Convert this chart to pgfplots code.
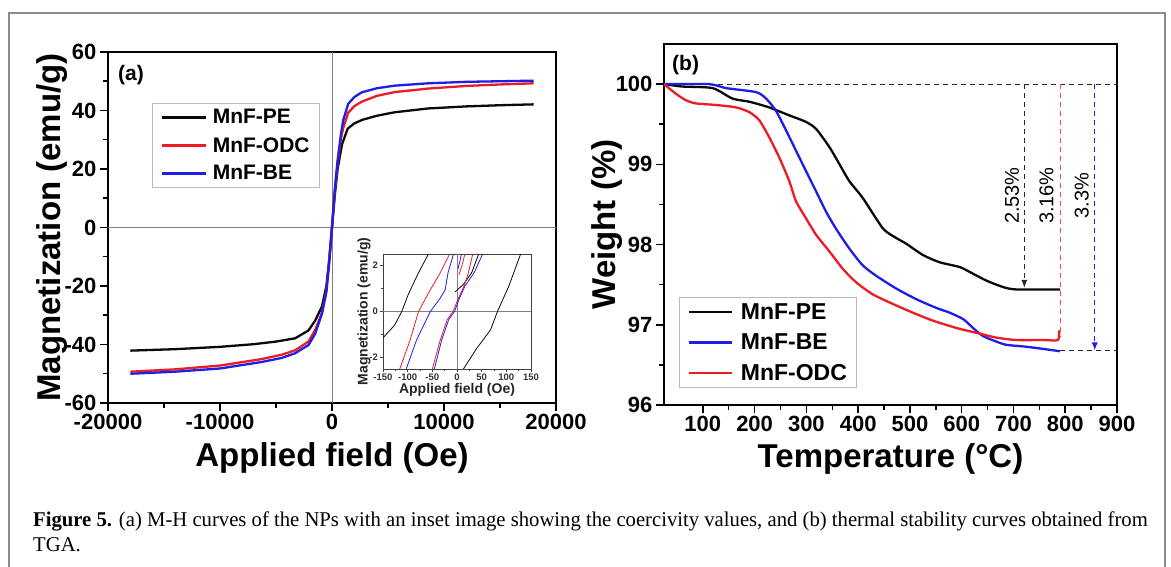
\documentclass[border=0pt]{standalone}
\usepackage{fontspec}
\setmainfont{Liberation Sans}
\newfontfamily\capfont{Liberation Serif}[FakeStretch=0.985]
\usepackage{pgfplots}
\pgfplotsset{compat=1.18}
\usetikzlibrary{arrows.meta}
\definecolor{cpe}{RGB}{10,10,10}
\definecolor{codc}{RGB}{236,28,36}
\definecolor{cbe}{RGB}{30,30,230}
\definecolor{framegray}{gray}{0.55}
\newcommand{\fs}[1]{\fontsize{#1}{#1}\selectfont}

\pgfplotsset{
  panel/.style={
    scale only axis, anchor=south west,
    axis line style={line width=2pt, black},
    tick style={line width=1.5pt, black},
    tick align=outside, tick pos=left,
    major tick length=8pt, minor tick length=5pt,
    scaled ticks=false,
    ticklabel style={font=\fs{22}\bfseries},
    label style={font=\fs{33}\bfseries},
    every axis y label/.style={at={(axis description cs:#1,0.5)}, rotate=90, anchor=center, font=\fs{33}\bfseries},
    clip=false,
  },
  curve/.style={line width=2.3pt, line join=round},
}

\begin{document}
\begin{tikzpicture}[x=1pt,y=1pt]
\useasboundingbox (0,0) rectangle (1171,567);
\fill[white] (0,0) rectangle (1171,567);
\draw[framegray, line width=1.3pt] (9,0) -- (9,554) -- (1165,554) -- (1165,0);

% (a) M-H curves
\begin{axis}[panel=-0.124,
  at={(108pt,164pt)}, width=448pt, height=351pt,
  xmin=-20000, xmax=20000, ymin=-60, ymax=60,
  xtick={-20000,-10000,0,10000,20000}, xticklabels={-20000,-10000,0,10000,20000},
  ytick={-60,-40,-20,0,20,40,60}, yticklabels={-60,-40,-20,0,20,40,60},
  minor x tick num=1, minor y tick num=1,
  xlabel={Applied field (Oe)}, ylabel={Magnetization (emu/g)},
  xlabel style={at={(axis description cs:0.5,-0.182)}, anchor=base},
  legend style={at={(axis description cs:0.098,0.855)}, anchor=north west,
    draw=gray!55, line width=1pt, fill=white, font=\fs{21}\bfseries,
    nodes={inner sep=2pt}, row sep=8pt, inner xsep=8pt, inner ysep=4pt,
    cells={anchor=west}},
  legend image code/.code={\draw[#1, line width=2.5pt] (0pt,0pt) -- (44pt,0pt); \path (48pt,0pt);},
]
\draw[gray, line width=0.8pt] (axis cs:-20000,0) -- (axis cs:20000,0);
\draw[gray, line width=0.8pt] (axis cs:0,-60) -- (axis cs:0,60);
\addplot[curve, cpe] coordinates {
(-18000,-42.1) (-14000,-41.6) (-10000,-40.8) (-7000,-39.9) (-5000,-39.0)
(-3300,-37.9) (-2100,-35.2) (-1500,-31.8) (-900,-27) (-500,-20) (-250,-11)
(0,0) (250,11) (500,20) (900,28.5) (1400,33.8) (2000,35.6) (2700,36.8)
(4000,38.2) (5600,39.4) (8600,40.7) (12000,41.4) (15000,41.8) (18000,42.1)};
\addplot[curve, codc] coordinates {
(-18000,-49.3) (-14000,-48.5) (-10000,-47.2) (-6300,-45.0) (-4500,-43.5)
(-3300,-42.0) (-2100,-39.0) (-1500,-35.0) (-900,-29.2) (-500,-21.5) (-250,-11.5)
(0,0) (250,12.5) (500,22) (800,30.5) (1000,34) (1450,39.3) (2000,41.5)
(2650,43.0) (4000,45.0) (5600,46.3) (8600,47.5) (12000,48.4) (15000,48.9) (18000,49.3)};
\addplot[curve, cbe] coordinates {
(-18000,-50.0) (-14000,-49.3) (-10000,-48.2) (-6300,-46.0) (-4500,-44.6)
(-3300,-43.0) (-2100,-40.2) (-1500,-36.3) (-900,-29.5) (-500,-22) (-250,-12)
(0,0) (250,13) (500,23) (800,32) (1000,36.7) (1450,42.3) (2000,44.6)
(2650,46.2) (4000,47.6) (5600,48.5) (8600,49.3) (12000,49.8) (15000,50.0) (18000,50.2)};
\legend{MnF-PE, MnF-ODC, MnF-BE}
\end{axis}
\node[anchor=north west, font=\fs{21}\bfseries, inner sep=0pt] at (118,502) {(a)};

% inset: coercivity
\begin{axis}[
  scale only axis, anchor=south west,
  at={(383pt,198pt)}, width=148pt, height=115pt,
  xmin=-150, xmax=150, ymin=-2.5, ymax=2.5,
  axis background/.style={fill=white},
  axis line style={line width=0.9pt, black!75},
  tick style={line width=0.8pt, black!75},
  tick align=outside, tick pos=left,
  major tick length=3.5pt, minor tick length=2pt,
  xtick={-150,-100,-50,0,50,100,150}, xticklabels={-150,-100,-50,0,50,100,150},
  ytick={-2,0,2}, yticklabels={-2,0,2},
  minor x tick num=1, minor y tick num=1,
  ticklabel style={font=\fs{9.5}\bfseries, text=black!80, inner sep=1.5pt},
  label style={font=\fs{14}\bfseries, text=black!85},
  xlabel={Applied field (Oe)}, ylabel={Magnetization (emu/g)},
  xlabel style={at={(axis description cs:0.5,-0.21)}, anchor=base},
  every axis y label/.style={at={(axis description cs:-0.128,0.5)}, rotate=90, anchor=center, font=\fs{14}\bfseries, text=black!85},
  clip=true,
]
\draw[gray, line width=0.6pt] (axis cs:-150,0) -- (axis cs:150,0);
\draw[gray, line width=0.6pt] (axis cs:0,-2.5) -- (axis cs:0,2.5);
\addplot[cpe, line width=0.8pt] coordinates {(-150,-1.15) (-126,-0.58) (-112,0) (-99,0.73) (-80,1.6) (-58,2.5)};
\addplot[cpe, line width=0.8pt] coordinates {(13,-2.5) (40,-1.6) (68,-0.8) (82,0) (105,1.1) (129,2.5)};
\addplot[cpe, line width=0.8pt] coordinates {(-4,0.85) (14,1.2) (30,1.7) (44,2.5)};
\addplot[codc, line width=0.8pt] coordinates {(-116,-2.5) (-95,-1.24) (-78,0) (-54,0.95) (-34,1.68) (-15,2.5)};
\addplot[cbe, line width=0.8pt] coordinates {(-103,-2.5) (-82,-1.24) (-54,0) (-34,0.58) (-24,0.95) (-18,1.7) (-7,2.5)};
\addplot[codc, line width=0.8pt] coordinates {(-50,-2.5) (-34,-1.24) (-20,-0.36) (-8,0) (3,0.58) (14,1.1) (22,1.6) (32,2.5)};
\addplot[cbe, line width=0.8pt] coordinates {(-46,-2.5) (-31,-1.24) (-17,-0.36) (-5,0) (5,0.58) (16,1.1) (35,1.7) (52,2.5)};
\addplot[codc, line width=0.8pt] coordinates {(4,1.6) (10,2.0) (16,2.5)};
\addplot[cbe, line width=0.8pt] coordinates {(2,1.85) (6,2.2) (9,2.5)};
\end{axis}

% (b) TGA
\begin{axis}[panel=-0.126,
  at={(664pt,162pt)}, width=453pt, height=361pt,
  xmin=25, xmax=900, ymin=96, ymax=100.5,
  xtick={100,200,300,400,500,600,700,800,900},
  xticklabels={100,200,300,400,500,600,700,800,900},
  ytick={96,97,98,99,100}, yticklabels={96,97,98,99,100},
  minor x tick num=1, minor y tick num=1,
  xlabel={Temperature (°C)}, ylabel={Weight (\%)},
  xlabel style={at={(axis description cs:0.5,-0.172)}, anchor=base},
  legend style={at={(axis description cs:0.033,0.299)}, anchor=north west,
    draw=gray!55, line width=1pt, fill=white, font=\fs{23}\bfseries,
    nodes={inner sep=2pt}, row sep=9pt, inner xsep=8pt, inner ysep=4pt,
    cells={anchor=west}},
  legend image code/.code={\draw[#1, line width=2.5pt] (0pt,0pt) -- (43pt,0pt); \path (49pt,0pt);},
]
\draw[black!85, line width=1.2pt, dash pattern=on 5pt off 4pt] (axis cs:25,100) -- (axis cs:900,100);
\draw[black!85, line width=1.2pt, dash pattern=on 5pt off 4pt] (axis cs:790,96.68) -- (axis cs:900,96.68);
\draw[codc!80, line width=1pt, dash pattern=on 5pt off 4pt] (axis cs:791,100) -- (axis cs:791,96.85);
\addplot[curve, cpe, smooth, tension=0.4] coordinates {
(25,100) (60,99.97) (119,99.95) (157,99.82) (190,99.78) (228,99.71) (267,99.61)
(299,99.53) (319,99.44) (345,99.21) (364,99.0) (383,98.79) (409,98.58) (448,98.20)
(474,98.08) (493,98.01) (525,97.87) (557,97.78) (596,97.72) (615,97.66) (648,97.55)
(680,97.47) (706,97.44) (790,97.44)};
\addplot[curve, cbe, smooth, tension=0.4] coordinates {
(25,100) (112,100) (145,99.95) (203,99.90) (222,99.82) (241,99.67) (261,99.42)
(280,99.17) (299,98.92) (319,98.66) (338,98.41) (357,98.20) (383,97.95) (409,97.74)
(435,97.61) (474,97.45) (512,97.32) (551,97.21) (577,97.15) (603,97.07) (622,96.96)
(641,96.86) (667,96.79) (686,96.75) (719,96.73) (745,96.71) (790,96.67)};
\addplot[curve, codc, smooth, tension=0.4] coordinates {
(25,100) (48,99.88) (67,99.80) (86,99.76) (125,99.74) (164,99.71) (190,99.65)
(209,99.55) (228,99.34) (248,99.08) (267,98.79) (280,98.54) (299,98.33) (319,98.12)
(345,97.91) (370,97.70) (396,97.53) (428,97.38) (467,97.26) (506,97.15) (545,97.05)
(590,96.96) (628,96.90) (667,96.84) (706,96.81) (757,96.81) (786,96.81) (788,96.93)};
\legend{MnF-PE, MnF-BE, MnF-ODC}
\draw[black!85, line width=1.2pt, dash pattern=on 5pt off 4pt, -{Latex[length=8pt,width=6pt]}] (axis cs:721,100) -- (axis cs:721,97.46);
\draw[cbe, line width=1.1pt, dash pattern=on 5pt off 4pt, -{Latex[length=8pt,width=6pt]}] (axis cs:857,100) -- (axis cs:857,96.68);
\node[rotate=90, font=\fs{20}, anchor=center] at (axis cs:697,98.61) {2.53\%};
\node[rotate=90, font=\fs{20}, anchor=center] at (axis cs:764,98.61) {3.16\%};
\node[rotate=90, font=\fs{20}, anchor=center] at (axis cs:832,98.61) {3.3\%};
\end{axis}
\node[anchor=north west, font=\fs{21}\bfseries, inner sep=0pt] at (672,512) {(b)};

% caption
\node[anchor=base west, inner sep=0pt, font=\capfont\fs{21}] at (33,40)
  {\textbf{Figure 5.} (a) M-H curves of the NPs with an inset image showing the coercivity values, and (b) thermal stability curves obtained from};
\node[anchor=base west, inner sep=0pt, font=\capfont\fs{21}] at (33,15) {TGA.};
\end{tikzpicture}
\end{document}
